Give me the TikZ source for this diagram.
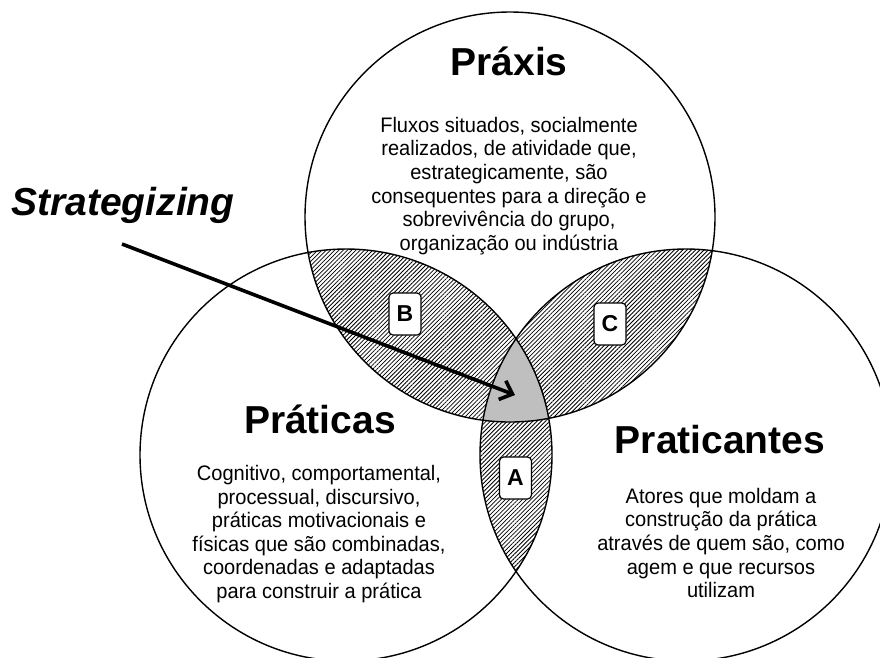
\documentclass[tikz,border=0pt]{standalone}
\usepackage{fontspec}
\setmainfont{Liberation Sans}
\newfontfamily\bodyfont[FakeStretch=0.955]{Liberation Sans}
\usetikzlibrary{patterns.meta,arrows.meta}
\begin{document}
\begin{tikzpicture}[x=1pt,y=-1pt,
  title/.style={font=\fontsize{39}{46}\selectfont\bfseries, inner sep=0pt, anchor=base},
  body/.style={font=\bodyfont\fontsize{21}{23.6}\selectfont, align=center, inner sep=0pt},
  letterbox/.style={draw, line width=1.2pt, fill=white, rounded corners=4pt, minimum width=32pt, minimum height=42pt, inner sep=0pt, font=\fontsize{23}{23}\selectfont\bfseries},
  hatch/.style={pattern={Lines[angle=45,distance=3pt,line width=0.8pt]}},
  ring/.style={line width=1.4pt},
  pointer/.style={line width=3.6pt, -{Straight Barb[length=11pt,width=20pt,line width=3.6pt]}},
]
\clip (0,0) rectangle (880,657);
\coordinate (T) at (510,217);
\coordinate (L) at (346,455);
\coordinate (R) at (686,455);
% hatched lenses
\begin{scope}
  \clip (T) circle[radius=205];
  \fill[hatch] (L) circle[radius=206];
  \fill[hatch] (R) circle[radius=206];
\end{scope}
\begin{scope}
  \clip (L) circle[radius=206];
  \fill[hatch] (R) circle[radius=206];
\end{scope}
% grey centre
\begin{scope}
  \clip (T) circle[radius=205];
  \clip (L) circle[radius=206];
  \fill[black!25] (R) circle[radius=206];
\end{scope}
\draw[ring] (T) circle[radius=205] (L) circle[radius=206] (R) circle[radius=206];
% titles
\node[title] (praxis) at (509,75) {Práxis};
\node[title] (praticas) at (320,433) {Práticas};
\node[title] (praticantes) at (720,453) {Praticantes};
\node[title, font=\fontsize{39}{46}\selectfont\bfseries\itshape] (strat) at (123,215) {Strategizing};
% bodies
\node[body] (praxisbody) at (509,186) {Fluxos situados, socialmente\\realizados, de atividade que,\\estrategicamente, são\\consequentes para a direção e\\sobrevivência do grupo,\\organização ou indústria};
\node[body] (praticasbody) at (319,534) {Cognitivo, comportamental,\\processual, discursivo,\\práticas motivacionais e\\físicas que são combinadas,\\coordenadas e adaptadas\\para construir a prática};
\node[body] (praticantesbody) at (721,543) {Atores que moldam a\\construção da prática\\através de quem são, como\\agem e que recursos\\utilizam};
% letter boxes
\node[letterbox] (B) at (405,314) {B};
\node[letterbox] (C) at (610,324) {C};
\node[letterbox] (A) at (515.5,478) {A};
% arrow
\coordinate (astart) at (122,244);
\coordinate (atip) at (515,395);
\draw[pointer] (astart) -- (atip);
\end{tikzpicture}
\end{document}
